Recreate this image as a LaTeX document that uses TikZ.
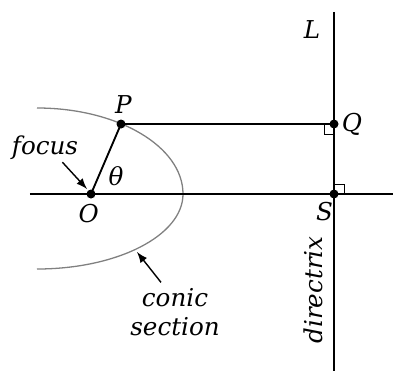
\documentclass[tikz,border=0pt]{standalone}
\usepackage{fontspec}
\setmainfont{DejaVu Serif}
\usetikzlibrary{positioning,calc}
\tikzset{
  lbl/.style={font=\itshape\fontsize{10.5}{12.5}\selectfont, inner sep=1pt},
  conic/.style={gray, line width=0.55pt},
  rightangle/.style={thin},
}
\begin{document}
\begin{tikzpicture}[scale=.75,thick]
\useasboundingbox (-1.82,-3.54) rectangle (6.04,3.88);
% points
\coordinate (O) at (0,0);
\coordinate (P) at (0.6,1.4);
\coordinate (Q) at (4.86,1.4);
\coordinate (S) at (4.86,0);
\coordinate (axisL) at (-1.22,0);
\coordinate (axisR) at (6.04,0);
\coordinate (dirT) at (4.86,3.64);
\coordinate (dirB) at (4.86,-3.54);
% conic section
\draw[conic] (-1.08,1.72) arc[start angle=90, end angle=0, x radius=2.92, y radius=1.72]
  arc[start angle=0, end angle=-90, x radius=2.92, y radius=1.5];
% axis, directrix and segments
\draw (axisL) -- (axisR);
\draw (dirT) -- (dirB);
\draw (O) -- (P);
\draw (P) -- (Q);
% right angles
\draw[rightangle] ($(Q)+(-0.2,0)$) -- ++(0,-0.2) -- ++(0.2,0);
\draw[rightangle] ($(S)+(0,0.2)$) -- ++(0.2,0) -- ++(0,-0.2);
% dots
\foreach \pt in {O,P,Q,S}
  \fill (\pt) circle[radius=0.09];
% labels
\node[lbl] (lblL) at (4.42,3.28) {L};
\node[lbl, above=3pt of P, xshift=1pt] (lblP) {P};
\node[lbl, right=2pt of Q] (lblQ) {Q};
\node[lbl, below left=2pt and -1pt of S] (lblS) {S};
\node[lbl, below=3pt of O, xshift=-1pt] (lblO) {O};
\node[lbl] (theta) at (0.5,0.36) {θ};
\node[lbl] (focus) at (-0.92,0.92) {focus};
\node[lbl, align=center] (section) at (1.68,-2.36) {conic\\section};
\node[lbl, rotate=90] (directrix) at (4.44,-1.92) {directrix};
% pointers
\coordinate (focusTip) at (-0.08,0.1);
\coordinate (conicTip) at (0.92,-1.16);
\draw[semithick,arrows=-latex] (focus.south east) ++(-0.38,0.02) -- (focusTip);
\draw[semithick,arrows=-latex] (section.north) ++(-0.28,0.05) -- (conicTip);
\end{tikzpicture}
\end{document}
